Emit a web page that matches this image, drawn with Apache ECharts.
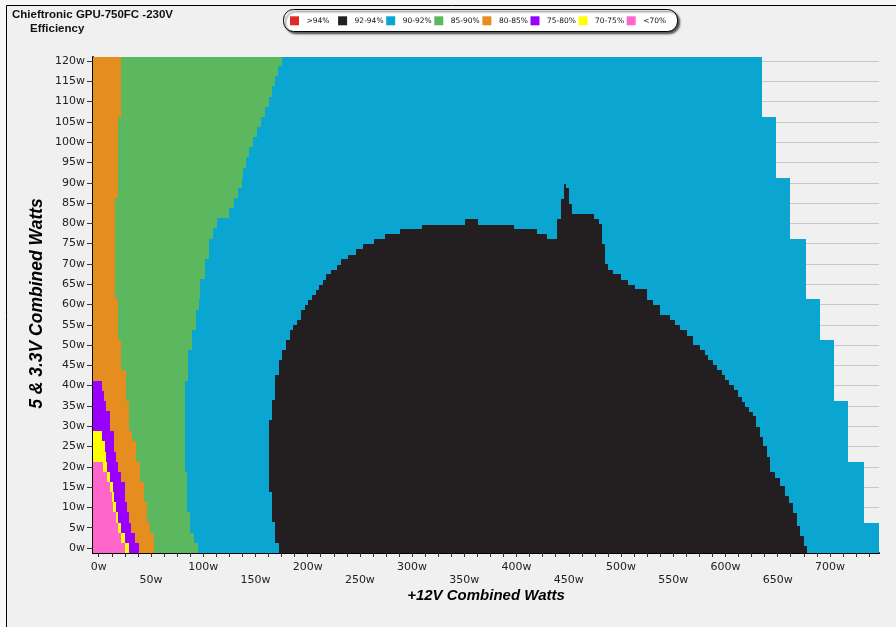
<!DOCTYPE html>
<html>
<head>
<meta charset="utf-8">
<script src="https://cdn.jsdelivr.net/npm/echarts@6/dist/echarts.min.js"></script>
<style>
  html, body { margin: 0; padding: 0; background: #f7f7f7; }
  #chart { width: 896px; height: 627px; }
</style>
</head>
<body>
<div id="chart"></div>
<script>
// ---- 5V + 3.3V combined load rows (W); each row is 2.5 W tall ----
const load5vRows = [0, 2.5, 5, 7.5, 10, 12.5, 15, 17.5, 20, 22.5, 25, 27.5, 30, 32.5, 35, 37.5, 40, 42.5,
  45, 47.5, 50, 52.5, 55, 57.5, 60, 62.5, 65, 67.5, 70, 72.5, 75, 77.5, 80, 82.5, 85, 87.5, 90, 92.5,
  95, 97.5, 100, 102.5, 105, 107.5, 110, 112.5, 115, 117.5, 120];

// ---- +12V load (W) at which each efficiency zone ends, row by row (missing rows = zone absent) ----
const edgeBelow70 = [24.9, 21.7, 18.5, 16.3, 13.7, 13, 11.2, 8, 4.2];
const edge70to75 = [28.7, 24.9, 21.7, 18.5, 16.3, 15, 13.7, 11.2, 8, 7, 5.7, 3.5];
const edge75to80 = [38.6, 34.5, 31.3, 29, 27.1, 24.9, 24.9, 21.7, 18.5, 16.3, 14.7, 14.7, 11.2, 11.2, 7.3, 5, 3.5];
const edge80to85 = [52.7, 52.7, 49.5, 46.3, 46.3, 43.1, 43.1, 39.3, 39.3, 35.4, 35.4, 32.3, 29, 29, 29,
  25.9, 25.9, 25.9, 21.7, 21.7, 21.7, 18.5, 18.5, 18.5, 18.5,
  15.3, 15.3, 15.3, 15.3, 15.3, 15.3, 15.3, 15.3, 15.3, 15.3,
  18.5, 18.5, 18.5, 18.5, 18.5, 18.5, 18.5, 18.5,
  21.7, 21.7, 21.7, 21.7, 21.7, 21.7];
const edge85to90 = [95.1, 91.0, 87.8, 87.8, 84.6, 84.6, 84.6, 84.6, 82.4,
  82.4, 82.4, 82.4, 82.4, 82.4, 82.4, 82.4, 82.4,
  85.5, 85.5, 85.5, 89.7, 89.7, 92.9, 92.9, 96, 97.4, 97.4, 101.5, 101.5, 105.7, 105.7, 109.5,
  113, 125, 129.3, 133.5, 136.7, 138.5, 141, 144, 147.8, 151.7, 154.9, 159, 162.8, 165.4, 168.6, 171.8, 175];
const edge90to92 = [747, 747, 747,
  732.8, 732.8, 732.8, 732.8, 732.8, 732.8,
  717.7, 717.7, 717.7, 717.7, 717.7, 717.7,
  704.3, 704.3, 704.3, 704.3, 704.3, 704.3,
  690.6, 690.6, 690.6, 690.6,
  677.2, 677.2, 677.2, 677.2, 677.2, 677.2,
  661.9, 661.9, 661.9, 661.9, 661.9, 661.9,
  648.5, 648.5, 648.5, 648.5, 648.5, 648.5,
  634.8, 634.8, 634.8, 634.8, 634.8, 634.8];

// ---- 92-94% zone as +12V columns: column i spans blackEdges[i]..blackEdges[i+1] ----
const blackEdges = [162.8, 165.4, 168.9, 172.2, 175.9, 179.1, 182.9, 186.1, 189.7, 193.2, 197.3, 200.5,
  204.3, 207.8, 211.0, 214.9, 218.0, 221.9, 228.3, 231.8, 238.8, 246.1, 253.2, 263.7, 273.9, 288.3,
  309.0, 350.5, 363.3, 397.5, 419.3, 429.4, 438.4, 442.2, 445.7, 447.0, 450.2, 453.4, 474.5, 478.5,
  481.5, 484.7, 488.0, 492.5, 499.7, 507.0, 513.4, 524.6, 531.0, 537.4, 547.0, 551.8, 556.6, 563.0,
  569.4, 575.7, 580.5, 583.7, 587.9, 591.7, 596.5, 599.7, 603.8, 608.3, 611.8, 615.7, 618.9, 623.0,
  626.2, 629.4, 633.2, 636.4, 639.6, 642.8, 647.6, 652.4, 657.2, 661.0, 664.6, 668.4, 671.6, 674.8, 678.0];
const blackTop = [31.5, 36.4, 42.5, 46.2, 48.8, 51.3, 53.8, 55.0, 56.3, 58.6, 59.8, 61.1, 62.4, 63.5,
  64.7, 66.1, 67.4, 68.6, 69.8, 71.1, 72.3, 73.6, 75.0, 76.1, 77.3, 78.7, 79.7, 81.1, 79.7, 78.7, 77.4,
  76.2, 81.1, 86.1, 89.7, 88.6, 84.8, 82.4, 81.1, 79.9, 75.0, 70.1, 68.6, 67.4, 66.1, 64.9, 63.7, 61.2,
  59.8, 57.4, 56.1, 54.9, 53.7, 52.2, 50.0, 48.8, 47.5, 46.3, 45.1, 43.8, 42.6, 41.4, 40.2, 38.9, 37.3,
  36.0, 34.8, 33.6, 32.4, 29.9, 27.4, 25.0, 22.5, 18.8, 17.2, 15.2, 12.7, 11.1, 8.6, 5.3, 2.9, 0.4];
// lower edge of the first columns; the remaining columns reach the floor
const blackBottom = [13.8, 6.5, 1.1];

// ---- axis labels ----
const xLabelValues = [0, 50, 100, 150, 200, 250, 300, 350, 400, 450, 500, 550, 600, 650, 700];
const yLabelValues = [0, 5, 10, 15, 20, 25, 30, 35, 40, 45, 50, 55, 60, 65, 70, 75, 80, 85, 90, 95,
  100, 105, 110, 115, 120];
const legendNames = ['>94%', '92-94%', '90-92%', '85-90%', '80-85%', '75-80%', '70-75%', '<70%'];

const X_MIN = -5.5, X_MAX = 747, Y_MIN = -1.25, Y_MAX = 121, ROW = 2.5;

const xTicks = [];
for (let v = 0; v <= 737.5; v += 12.5) xTicks.push(v);
const yMinorTicks = [];
for (let v = 0; v <= 120; v += 1.25) yMinorTicks.push(v);

const zones = [
  { name: '<70%', color: '#ff66cc', edges: edgeBelow70 },
  { name: '70-75%', color: '#ffff00', edges: edge70to75 },
  { name: '75-80%', color: '#9900ff', edges: edge75to80 },
  { name: '80-85%', color: '#e68d1f', edges: edge80to85 },
  { name: '85-90%', color: '#5cb85f', edges: edge85to90 },
  { name: '90-92%', color: '#0ba5d1', edges: edge90to92 }
];

// each zone occupies [previous zone's end, its own end] on every row
const zoneData = zones.map(() => []);
load5vRows.forEach((y, i) => {
  let prev = X_MIN;
  zones.forEach((z, k) => {
    const e = z.edges[i];
    if (e != null && e > prev) {
      zoneData[k].push([y, prev, e]);
      prev = e;
    }
  });
});

const blackData = blackTop.map((top, i) => [blackEdges[i], blackEdges[i + 1], blackBottom[i] || 0, top]);

function snapRect(api, xa, xb, ya, yb) {
  const p0 = api.coord([Math.max(xa, X_MIN), Math.min(yb, Y_MAX)]);
  const p1 = api.coord([Math.min(xb, X_MAX), Math.max(ya, Y_MIN)]);
  const l = Math.round(p0[0]), t = Math.round(p0[1]);
  const r = Math.round(p1[0]), b = Math.round(p1[1]);
  return { x: l, y: t, width: r - l, height: b - t };
}

function renderZone(params, api) {
  const y = api.value(0);
  return {
    type: 'rect',
    shape: snapRect(api, api.value(1), api.value(2), y - ROW / 2, y + ROW / 2),
    style: { fill: api.visual('color') }
  };
}

function renderBlack(params, api) {
  const bottom = api.value(2) > 0 ? api.value(2) : Y_MIN;
  return {
    type: 'rect',
    shape: snapRect(api, api.value(0), api.value(1), bottom, api.value(3)),
    style: { fill: api.visual('color') }
  };
}

const series = [
  { type: 'custom', name: '>94%', data: [], itemStyle: { color: '#e12a2a' }, renderItem: renderZone }
];
zones.slice().reverse().forEach((z) => {
  const k = zones.indexOf(z);
  series.push({
    type: 'custom', name: z.name, silent: true, animation: false,
    itemStyle: { color: z.color },
    encode: { x: [1, 2], y: 0 },
    data: zoneData[k],
    renderItem: renderZone
  });
});
series.push({
  type: 'custom', name: '92-94%', silent: true, animation: false, z: 5,
  itemStyle: { color: '#231f20' },
  encode: { x: [0, 1], y: [2, 3] },
  data: blackData,
  renderItem: renderBlack
});

// one legend entry per fixed-width slot inside a rounded box
const LEGEND_X0 = 290, LEGEND_SLOT = 48.1;
const legends = legendNames.map((name, i) => ({
  data: [name],
  left: LEGEND_X0 + i * LEGEND_SLOT, top: 16.3,
  padding: 0,
  icon: 'rect',
  itemWidth: 9, itemHeight: 9,
  selectedMode: false,
  textStyle: { fontFamily: 'DejaVu Sans', fontSize: 7.5, color: '#111', padding: [0, 0, 0, 2.5] }
}));

const labelFont = { fontFamily: 'DejaVu Sans', fontSize: 11, color: '#222' };

const chart = echarts.init(document.getElementById('chart'), null, { renderer: 'canvas' });
chart.setOption({
  animation: false,
  backgroundColor: 'transparent',
  graphic: [
    { type: 'rect', z: -100, silent: true,
      shape: { x: 6.5, y: 5.5, width: 900, height: 640 },
      style: { fill: '#f0f0f0', stroke: '#000', lineWidth: 1 } },
    { type: 'rect', z: 1, silent: true,
      shape: { x: 283.5, y: 9.5, width: 394, height: 22, r: 10 },
      style: { fill: '#ffffff', stroke: '#000', lineWidth: 1,
        shadowColor: 'rgba(0,0,0,0.65)', shadowBlur: 2, shadowOffsetX: 2, shadowOffsetY: 2 } },
    { type: 'text', left: 12, top: 9, silent: true,
      style: { text: 'Chieftronic GPU-750FC -230V', fontFamily: 'Liberation Sans', fontWeight: 'bold', fontSize: 11.5, fill: '#111' } },
    { type: 'text', left: 30, top: 22.5, silent: true,
      style: { text: 'Efficiency', fontFamily: 'Liberation Sans', fontWeight: 'bold', fontSize: 11.5, fill: '#111' } },
    { type: 'text', x: 37.5, y: 303.5, rotation: Math.PI / 2, silent: true,
      style: { text: '5 & 3.3V Combined Watts', fontFamily: 'Liberation Sans', fontWeight: 'bold', fontStyle: 'italic',
        fontSize: 17.5, fill: '#000', align: 'center', verticalAlign: 'middle' } },
    { type: 'text', x: 486, y: 595.5, silent: true,
      style: { text: '+12V Combined Watts', fontFamily: 'Liberation Sans', fontWeight: 'bold', fontStyle: 'italic',
        fontSize: 15, fill: '#000', align: 'center', verticalAlign: 'middle' } }
  ],
  legend: legends,
  grid: { left: 93, right: 17, top: 57, bottom: 74, containLabel: false },
  xAxis: [{
    type: 'value', min: X_MIN, max: X_MAX,
    axisLine: { show: true, onZero: false, lineStyle: { color: '#000', width: 2 } },
    axisTick: { show: true, customValues: xTicks, length: 4, lineStyle: { color: '#333' } },
    axisLabel: Object.assign({
      customValues: xLabelValues, margin: 8, lineHeight: 13,
      formatter: (v) => (v % 100 === 0 ? '' : '\n') + v + 'w'
    }, labelFont),
    splitLine: { show: false }
  }],
  yAxis: [{
    type: 'value', min: Y_MIN, max: Y_MAX,
    axisLine: { show: true, onZero: false, lineStyle: { color: '#000', width: 2 } },
    axisTick: { show: true, customValues: yLabelValues, length: 6, lineStyle: { color: '#333' } },
    axisLabel: Object.assign({ customValues: yLabelValues, margin: 8, formatter: (v) => v + 'w' }, labelFont),
    splitLine: { show: true, lineStyle: { color: '#c8c8c8', width: 1 } }
  }, {
    type: 'value', min: Y_MIN, max: Y_MAX, position: 'left', offset: 0,
    axisLine: { show: false },
    axisTick: { show: true, customValues: yMinorTicks, length: 3, lineStyle: { color: '#333' } },
    axisLabel: { show: false },
    splitLine: { show: false }
  }],
  series: series
});
</script>
</body>
</html>
